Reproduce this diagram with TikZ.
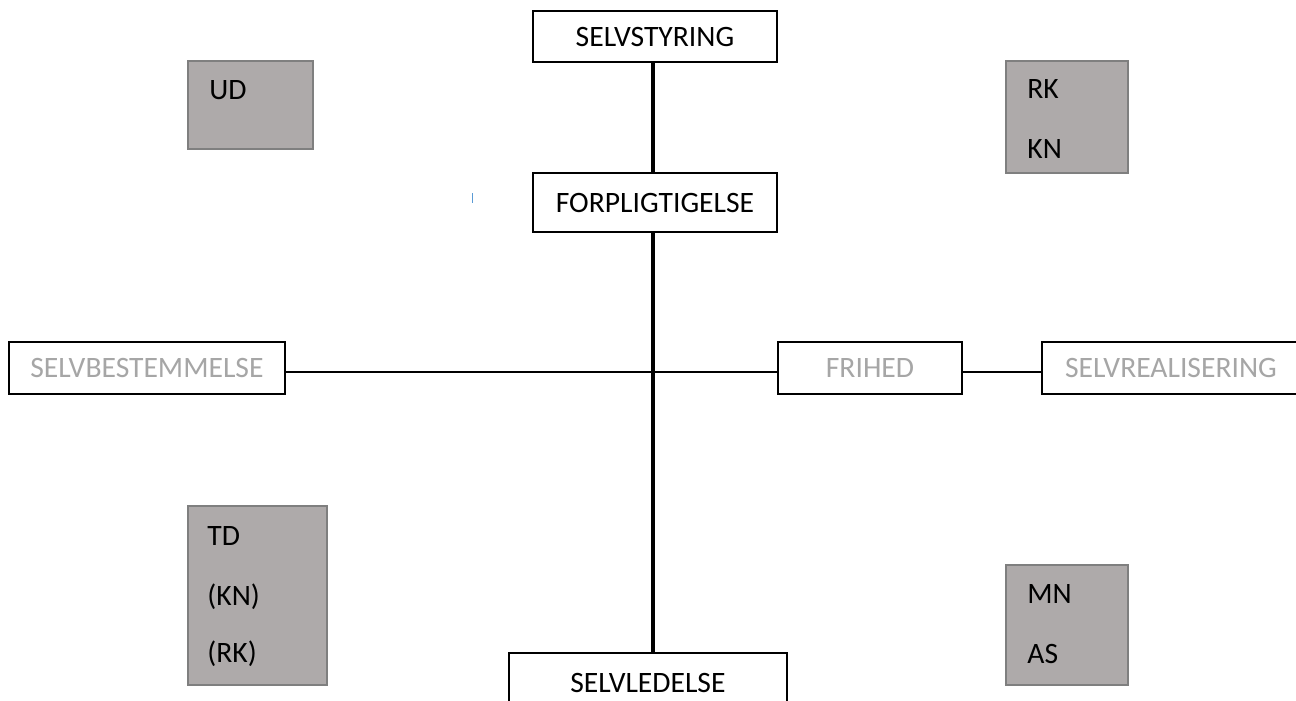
\documentclass[tikz,border=0pt]{standalone}
\usepackage{fontspec}
\setmainfont{Carlito}
\definecolor{boxgrey}{HTML}{AEAAAA}
\definecolor{boxedge}{HTML}{7F7F7F}
\definecolor{txtgrey}{HTML}{A6A6A6}
\definecolor{cursorblue}{HTML}{5B9BD5}
\tikzset{
  mainbox/.style={draw=black, line width=0.65pt, fill=white, inner sep=0pt, font=\fontsize{14.8}{17}\selectfont},
  greybox/.style={draw=boxedge, line width=0.65pt, fill=boxgrey, inner sep=0pt},
  greytxt/.style={anchor=base west, inner sep=0pt, font=\fontsize{14.8}{17}\selectfont},
  thin/.style={line width=0.65pt},
  thick spine/.style={line width=2pt},
}
\begin{document}
\begin{tikzpicture}[x=0.5pt,y=-0.5pt]
\useasboundingbox (0,0) rectangle (1296,701);
\clip (0,0) rectangle (1296,701);
% main boxes
\node[mainbox, minimum width=122pt, minimum height=25.5pt] (sty) at (655,36.5) {SELVSTYRING};
\node[mainbox, minimum width=122pt, minimum height=29.5pt] (for) at (655,202.5) {FORPLIGTIGELSE};
\node[mainbox, minimum width=139pt, minimum height=30pt] (led) at (648,683) {SELVLEDELSE};
\node[mainbox, minimum width=138pt, minimum height=26pt, text=txtgrey] (bes) at (147,368) {SELVBESTEMMELSE};
\node[mainbox, minimum width=92pt, minimum height=26pt, text=txtgrey] (fri) at (870,368) {FRIHED};
\node[mainbox, minimum width=129pt, minimum height=26pt, text=txtgrey] (rea) at (1171,368) {SELVREALISERING};
% grey boxes
\node[greybox, minimum width=62.5pt, minimum height=44pt] (ud) at (250.5,105) {};
\node[greybox, minimum width=69.5pt, minimum height=89.5pt] (td) at (257.5,595.5) {};
\node[greybox, minimum width=61pt, minimum height=56pt] (rk) at (1067,117) {};
\node[greybox, minimum width=61pt, minimum height=60pt] (mn) at (1067,625) {};
% grey box texts
\node[greytxt] (udt) at (209,100) {UD};
\node[greytxt] (tdt) at (207,545) {TD};
\node[greytxt] (tdkn) at (207,605) {(KN)};
\node[greytxt] (tdrk) at (207,662) {(RK)};
\node[greytxt] (rkt) at (1027,99) {RK};
\node[greytxt] (knt) at (1027,158) {KN};
\node[greytxt] (mnt) at (1027,603) {MN};
\node[greytxt] (ast) at (1027,663) {AS};
% connectors
\coordinate (vx) at (653,0);
\coordinate (hy) at (0,372);
\draw[thin] (bes.east |- hy) -- (fri.west |- hy);
\draw[thin] (fri.east |- hy) -- (rea.west |- hy);
\draw[thick spine] (sty.south -| vx) -- (for.north -| vx);
\draw[thick spine] (for.south -| vx) -- (led.north -| vx);
% stray cursor mark
\coordinate (cur) at (472,193);
\draw[cursorblue, line width=0.5pt] (cur) -- ++(0,10);
\end{tikzpicture}
\end{document}
